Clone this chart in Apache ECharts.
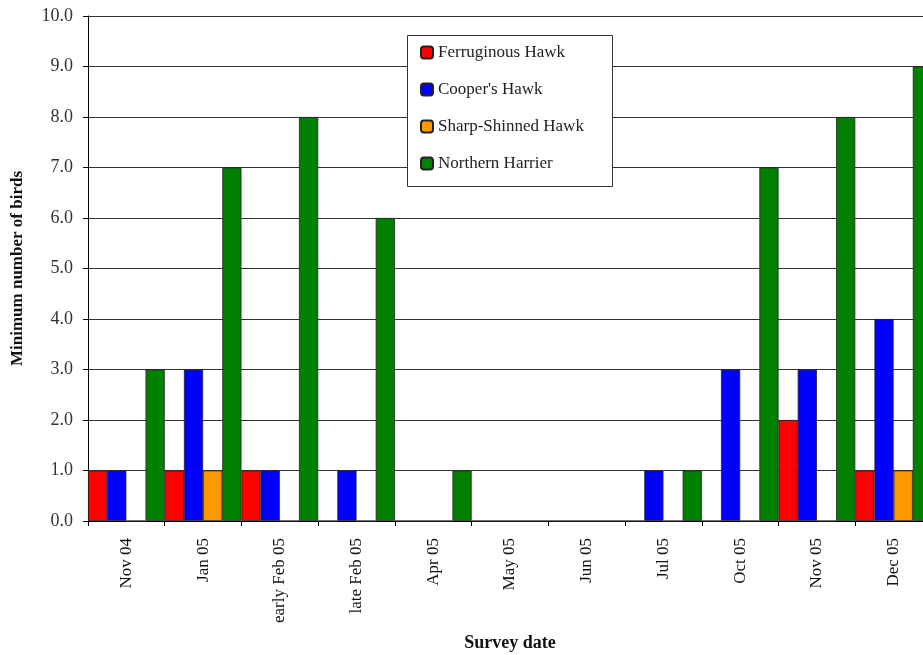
<!DOCTYPE html>
<html><head><meta charset="utf-8">
<script src="https://cdn.jsdelivr.net/npm/echarts@6/dist/echarts.min.js"></script>
<style>html,body{margin:0;padding:0;background:#fff}#c{width:923px;height:655px}</style>
</head><body><div id="c"></div>
<script>
var categories = ['Nov 04','Jan 05','early Feb 05','late Feb 05','Apr 05','May 05','Jun 05','Jul 05','Oct 05','Nov 05','Dec 05'];
var ferruginous = [1,1,1,0,0,0,0,0,0,2,1];
var coopers = [1,3,1,1,0,0,0,1,3,3,4];
var sharpShinned = [0,1,0,0,0,0,0,0,0,0,1];
var harrier = [3,7,8,6,1,0,0,1,7,8,9];
var seriesNames = ['Ferruginous Hawk',"Cooper's Hawk",'Sharp-Shinned Hawk','Northern Harrier'];
var seriesColors = ['#ff0000','#0000ff','#ff9900','#008000'];
var seriesData = [ferruginous, coopers, sharpShinned, harrier];

var serif = '"Liberation Serif","DejaVu Serif",serif';
var chart = echarts.init(document.getElementById('c'));
chart.setOption({
  animation: false,
  backgroundColor: '#fff',
  grid: {left: 88, right: -9, top: 16, bottom: 134, containLabel: false, outerBoundsMode: 'none'},
  graphic: [{type:'rect', z: 5, shape:{x:407.5,y:35.5,width:205,height:151}, style:{fill:'#fff', stroke:'#333', lineWidth:1}}],
  legend: {
    orient: 'vertical', left: 415, top: 39, z: 10,
    itemWidth: 12, itemHeight: 12, itemGap: 20,
    data: seriesNames,
    textStyle: {fontFamily: serif, fontSize: 17, color: '#222'}
  },
  xAxis: {
    type: 'category', data: categories, boundaryGap: true,
    name: 'Survey date', nameLocation: 'middle', nameGap: 113,
    nameTextStyle: {fontFamily: serif, fontSize: 18, fontWeight: 'bold', color: '#111'},
    axisLine: {lineStyle: {color: '#000', width: 1}},
    axisTick: {show: true, length: 5, lineStyle: {color: '#000'}},
    axisLabel: {rotate: 90, interval: 0, margin: 17, fontFamily: serif, fontSize: 17, color: '#111'}
  },
  yAxis: {
    type: 'value', min: 0, max: 10, interval: 1,
    name: 'Minimum number of birds', nameLocation: 'middle', nameGap: 62,
    nameTextStyle: {fontFamily: serif, fontSize: 17, fontWeight: 'bold', color: '#111'},
    axisLine: {show: true, lineStyle: {color: '#000', width: 1}},
    axisTick: {show: true, length: 5, lineStyle: {color: '#000'}},
    axisLabel: {formatter: function(v){return v.toFixed(1);}, margin: 15, fontFamily: serif, fontSize: 18, color: '#333'},
    splitLine: {show: true, lineStyle: {color: '#333', width: 1}}
  },
  series: seriesNames.map(function(n, i){
    return {
      name: n, type: 'bar', data: seriesData[i],
      barGap: '0%', barCategoryGap: '0%',
      itemStyle: {color: seriesColors[i], borderColor: '#222', borderWidth: 0.8}
    };
  })
});
</script></body></html>
